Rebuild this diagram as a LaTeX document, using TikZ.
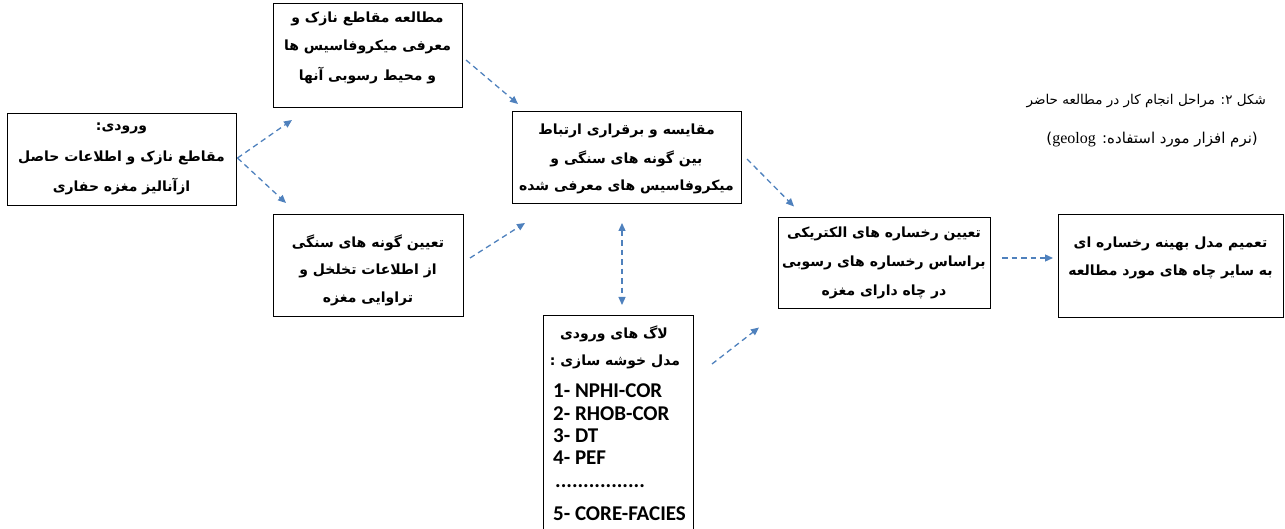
\documentclass[tikz,border=0pt]{standalone}
\usepackage{fontspec}
\usetikzlibrary{arrows.meta,calc}
\TeXXeTstate=1
\newfontfamily\fa[Script=Arabic]{DejaVu Sans}
\newfontfamily\en{Carlito}
\newfontfamily\ser{Liberation Serif}
\definecolor{arr}{RGB}{79,129,189}
\tikzset{
  boxnode/.style={draw=black,line width=1pt,inner sep=0pt,outer sep=0pt},
  txt/.style={font=\fa\bfseries\fontsize{14}{16}\selectfont,inner sep=0pt,anchor=center},
  entxt/.style={font=\en\bfseries\fontsize{21}{23}\selectfont,inner sep=0pt,anchor=west},
  captxt/.style={font=\fa\fontsize{13.5}{16}\selectfont,inner sep=0pt,anchor=east},
  flow/.style={draw=arr,line width=1.3pt,dash pattern=on 5.5pt off 4pt,-{Triangle[length=8pt,width=7pt]}},
  flowboth/.style={draw=arr,line width=1.3pt,dash pattern=on 5.5pt off 4pt,{Triangle[length=8pt,width=7pt]}-{Triangle[length=8pt,width=7pt]}}
}
\newcommand{\rl}[1]{\beginR #1\endR}
\begin{document}
\begin{tikzpicture}[x=1pt,y=-1pt]
\useasboundingbox (0,0) rectangle (1285,529);
% boxes
\node[boxnode,minimum width=229pt,minimum height=92pt] (b1) at (121.5,160) {};
\node[boxnode,minimum width=189pt,minimum height=104pt] (b2) at (367.5,56) {};
\node[boxnode,minimum width=190pt,minimum height=102pt] (b3) at (368,266) {};
\node[boxnode,minimum width=229pt,minimum height=92pt] (b4) at (626.5,158) {};
\node[boxnode,minimum width=150pt,minimum height=216pt] (b5) at (618,424) {};
\node[boxnode,minimum width=212pt,minimum height=91pt] (b6) at (884,263) {};
\node[boxnode,minimum width=225pt,minimum height=103pt] (b7) at (1170.5,266.5) {};
% box 1
\node[txt] (t1a) at (121.5,128) {\rl{ورودی:}};
\node[txt] (t1b) at (121.5,158) {\rl{مقاطع نازک و اطلاعات حاصل}};
\node[txt] (t1c) at (121.5,187) {\rl{ازآنالیز مغزه حفاری}};
% box 2
\node[txt] (t2a) at (367.5,19) {\rl{مطالعه مقاطع نازک و}};
\node[txt] (t2b) at (367.5,47) {\rl{معرفی میکروفاسیس ها}};
\node[txt] (t2c) at (367.5,76) {\rl{و محیط رسوبی آنها}};
% box 3
\node[txt] (t3a) at (368,243) {\rl{تعیین گونه های سنگی}};
\node[txt] (t3b) at (368,271) {\rl{از اطلاعات تخلخل و}};
\node[txt] (t3c) at (368,299) {\rl{تراوایی مغزه}};
% box 4
\node[txt] (t4a) at (626.5,131) {\rl{مقایسه و برقراری ارتباط}};
\node[txt] (t4b) at (626.5,159) {\rl{بین گونه های سنگی و}};
\node[txt] (t4c) at (626.5,187) {\rl{میکروفاسیس های معرفی شده}};
% box 5
\node[txt] (t5a) at (614,334) {\rl{لاگ های ورودی}};
\node[txt] (t5b) at (615,362) {\rl{مدل خوشه سازی :}};
\node[entxt] (t5c) at (553,391) {1- NPHI-COR};
\node[entxt] (t5d) at (553,414) {2- RHOB-COR};
\node[entxt] (t5e) at (553,436) {3- DT};
\node[entxt] (t5f) at (553,458) {4- PEF};
\node[entxt] (t5g) at (555,486) {................};
\node[entxt] (t5h) at (553,514) {5- CORE-FACIES};
% box 6
\node[txt] (t6a) at (884,234) {\rl{تعیین رخساره های الکتریکی}};
\node[txt] (t6b) at (884,263) {\rl{براساس رخساره های رسوبی}};
\node[txt] (t6c) at (884,292) {\rl{در چاه دارای مغزه}};
% box 7
\node[txt] (t7a) at (1170.5,244) {\rl{تعمیم مدل بهینه رخساره ای}};
\node[txt] (t7b) at (1170.5,272) {\rl{به سایر چاه های مورد مطالعه}};
% caption
\node[captxt] (cap1) at (1266,101) {\rl{شکل ۲: مراحل انجام کار در مطالعه حاضر}};
\node[captxt,font=\fa\fontsize{15}{17}\selectfont] (cap2) at (1258,140) {\rl{(نرم افزار مورد استفاده: \beginL{\ser\fontsize{16}{18}\selectfont geolog}\endL)}};
% connectors
\coordinate (s1) at ($(b1.east)+(1.5,-2)$);
\draw[flow] (s1) -- ($(b2.south west)+(19,12)$);
\draw[flow] (s1) -- ($(b3.north west)+(13,-12)$);
\draw[flow] ($(b2.east)+(4,4)$) -- ($(b4.north west)+(6,-8)$);
\draw[flow] ($(b3.east)+(7,-8)$) -- ($(b4.south west)+(13,19)$);
\draw[flowboth] ($(b4.south)+(-4.5,19)$) -- ($(b5.north)+(4,-11)$);
\draw[flow] ($(b4.east)+(6,1)$) -- ($(b6.north west)+(16,-11)$);
\draw[flow] ($(b5.north east)+(19,48)$) -- ($(b6.south west)+(-19,19)$);
\draw[flow] ($(b6.east)+(12,-5)$) -- ($(b7.west)+(-5,-8.5)$);
\end{tikzpicture}
\end{document}
